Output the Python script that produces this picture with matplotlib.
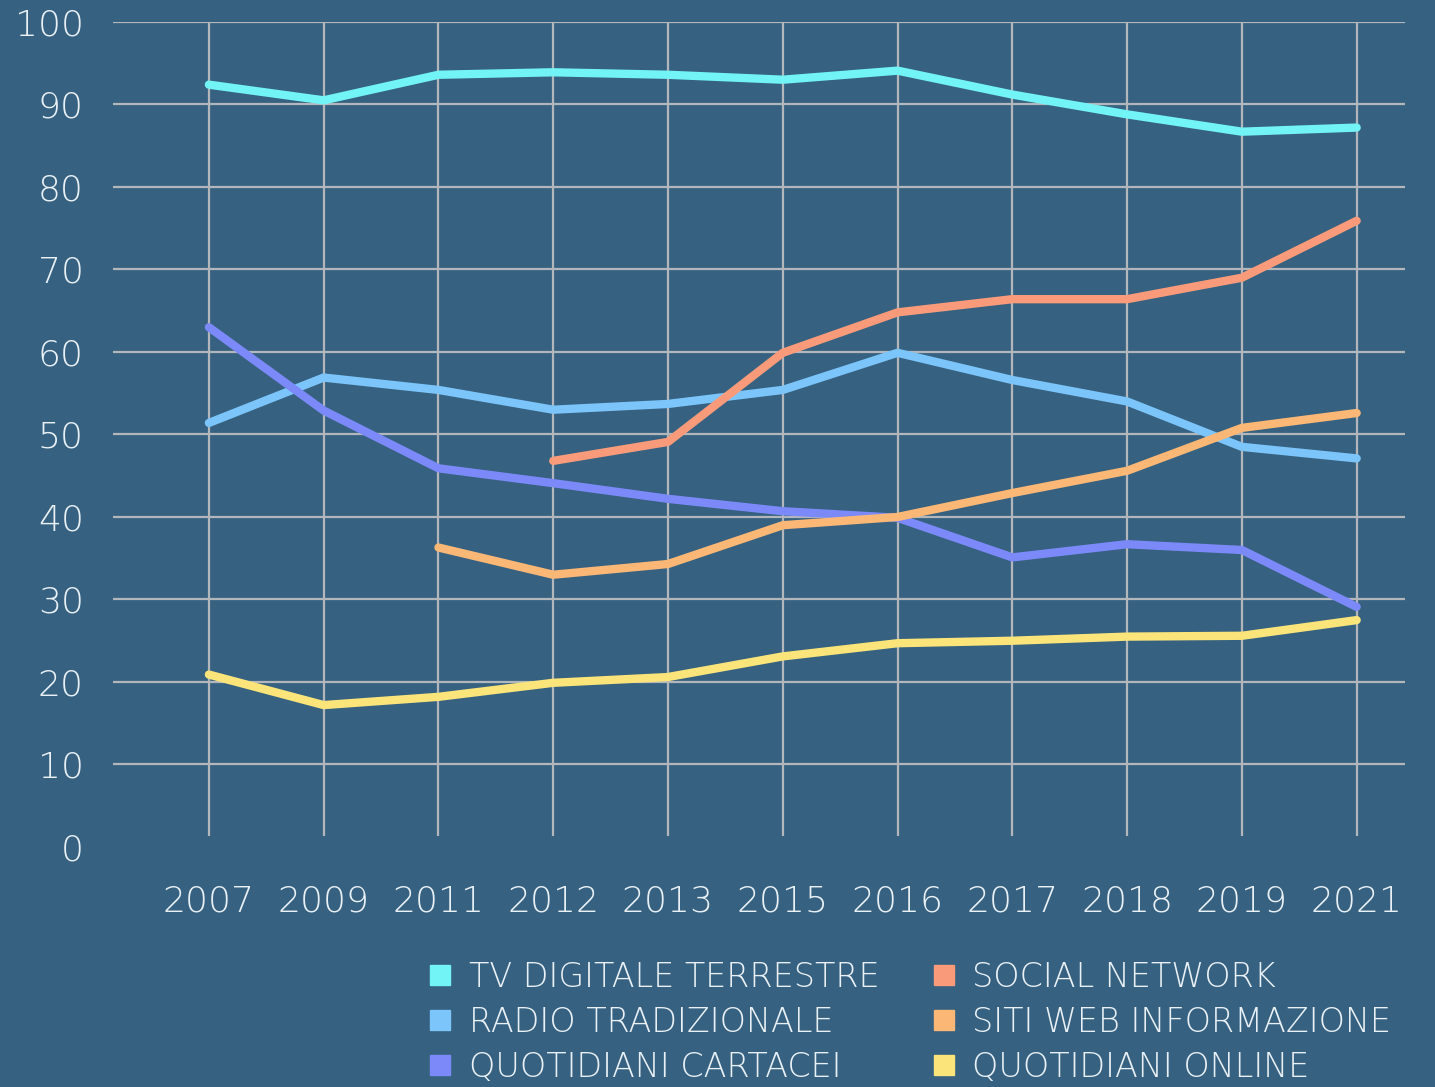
import matplotlib
matplotlib.use("Agg")
import matplotlib.pyplot as plt
from matplotlib.lines import Line2D
import numpy as np

years = ["2007", "2009", "2011", "2012", "2013", "2015", "2016", "2017", "2018", "2019", "2021"]
nan = float("nan")
tv_digitale = [92.4, 90.5, 93.6, 93.9, 93.6, 93.0, 94.1, 91.2, 88.8, 86.7, 87.2]
radio = [51.4, 56.9, 55.4, 53.0, 53.7, 55.4, 59.9, 56.6, 54.0, 48.5, 47.1]
quotidiani_cartacei = [63.0, 52.9, 45.9, 44.1, 42.2, 40.7, 39.9, 35.1, 36.7, 36.0, 29.1]
social = [nan, nan, nan, 46.8, 49.1, 59.9, 64.8, 66.4, 66.4, 69.0, 75.9]
siti_web = [nan, nan, 36.3, 33.0, 34.3, 39.0, 40.0, 42.9, 45.6, 50.8, 52.6]
quotidiani_online = [20.9, 17.2, 18.2, 19.9, 20.6, 23.1, 24.7, 25.0, 25.5, 25.6, 27.5]

labels = ["TV DIGITALE TERRESTRE", "RADIO TRADIZIONALE", "QUOTIDIANI CARTACEI",
          "SOCIAL NETWORK", "SITI WEB INFORMAZIONE", "QUOTIDIANI ONLINE"]
series = [tv_digitale, radio, quotidiani_cartacei, social, siti_web, quotidiani_online]
colors = ["#72f4f6", "#7cc5fa", "#7c8af9", "#f99b7a", "#fbb775", "#fbe57a"]
yticks = [0, 10, 20, 30, 40, 50, 60, 70, 80, 90, 100]

bg = "#366180"
txt = "#e9f1f6"
gridc = "#b3b6ba"

plt.rcParams['font.family'] = ['DejaVu Sans']

fig = plt.figure(figsize=(14.35, 10.87), dpi=100, facecolor=bg)
ax = fig.add_axes([0.0787, 0.2208, 0.9003, 0.759])
ax.set_facecolor(bg)

x = np.arange(len(years))
for yv in yticks[1:]:
    ax.axhline(yv, color=gridc, lw=1.6, zorder=1)
ax.vlines(x, 1.3, 100, color=gridc, lw=1.6, zorder=1)

for vals, c, lab in zip(series, colors, labels):
    ax.plot(x, vals, color=c, lw=6, solid_capstyle='round', solid_joinstyle='round',
            zorder=3, label=lab)

ax.set_xlim(-0.836, 10.42)
ax.set_ylim(0, 100)
ax.set_xticks(x)
ax.set_xticklabels(years)
ax.set_yticks(yticks)
ax.set_yticklabels([str(v) for v in yticks])
ax.tick_params(axis='both', length=0, colors=txt, labelsize=26)
ax.tick_params(axis='y', pad=21)
ax.tick_params(axis='x', pad=27)
for lbl in ax.get_xticklabels() + ax.get_yticklabels():
    lbl.set_fontweight('light')
for s in ax.spines.values():
    s.set_visible(False)

handles = [Line2D([], [], marker='s', linestyle='none', markersize=15,
                  markerfacecolor=c, markeredgecolor=c) for c in colors]
leg = fig.legend(handles, labels, ncol=2, loc='upper left',
                 bbox_to_anchor=(0.287, 0.1315), frameon=False,
                 fontsize=24, labelcolor=txt, handlelength=0.7,
                 handletextpad=0.5, columnspacing=1.6, labelspacing=0.36,
                 borderpad=0)
for t in leg.get_texts():
    t.set_fontweight('light')

fig.savefig("out.png", dpi=100, facecolor=bg)
